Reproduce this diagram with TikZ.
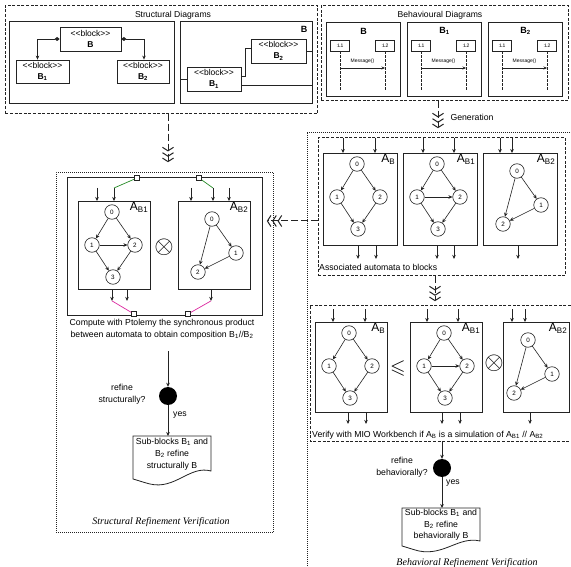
\documentclass[tikz,border=0pt]{standalone}
\usepackage{fontspec}
\usepackage{amssymb}
\setmainfont{Liberation Sans}
\newfontfamily\captionserif{Liberation Serif}
\usetikzlibrary{arrows.meta,calc}

\definecolor{wiregreen}{RGB}{40,140,40}
\definecolor{wirepink}{RGB}{220,40,160}
\definecolor{ink}{RGB}{35,35,35}

\newcommand{\txt}{\fontsize{8.7}{11.8}\selectfont}
\newcommand{\ttl}{\fontsize{8.6}{10}\selectfont}
\newcommand{\stereo}{<{}<block>{}>}

% automaton with four states (diamond layout)
\newcommand{\autoB}[6]{%
  \node[abox, minimum width=#4pt, minimum height=#5pt, anchor=north west] (#1) at (#2,#3) {};
  \node[albl] (#1l) at ($(#1.north east)+(-2,1)$) {A\textsubscript{#6}};
  \node[st] (#1a) at ($(#1.north west)+(34,11)$) {0};
  \node[st] (#1b) at ($(#1.north west)+(14,44)$) {1};
  \node[st] (#1c) at ($(#1.north west)+(57,44)$) {2};
  \node[st] (#1d) at ($(#1.north west)+(35,76)$) {3};
  \draw[tr] (#1a) -- (#1b);
  \draw[tr] (#1a) -- (#1c);
  \draw[tr] (#1b) -- (#1d);
  \draw[tr] (#1c) -- (#1d);
}
% same, with the extra transition 1 -> 2
\newcommand{\autoBone}[6]{%
  \autoB{#1}{#2}{#3}{#4}{#5}{#6}%
  \draw[tr] (#1b) -- (#1c);
}
% automaton with three states
\newcommand{\autoBtwo}[7]{%
  \node[abox, minimum width=#4pt, minimum height=#5pt, anchor=north west] (#1) at (#2,#3) {};
  \node[albl] (#1l) at ($(#1.north east)+(-2,1)$) {A\textsubscript{#6}};
  \node[st] (#1a) at ($(#1.north west)+({34+#7},18)$) {0};
  \node[st] (#1b) at ($(#1.north west)+({58+#7},52)$) {1};
  \node[st] (#1c) at ($(#1.north west)+({20+#7},71)$) {2};
  \draw[tr] (#1a) -- (#1b);
  \draw[tr] (#1a) -- (#1c);
  \draw[tr] (#1b) -- (#1c);
}
% input / output ports of an automaton box
\newcommand{\inarr}[3]{\draw[tr] ($(#1.north west)+(#2,-#3)$) -- ($(#1.north west)+(#2,0)$);}
\newcommand{\outarr}[3]{\draw[tr] ($(#1.south west)+(#2,0)$) -- ($(#1.south west)+(#2,#3)$);}
% sequence diagram frame
\newcommand{\seqdiag}[3]{%
  \node[thickbox, anchor=north west, minimum width=74pt, minimum height=74pt] (#1) at (#2,22) {};
  \node[font=\bfseries\fontsize{9}{9}\selectfont] (#1t) at ($(#1.north)+(0,9)$) {#3};
  \node[lifebox] (#1p) at ($(#1.north west)+(14,23.5)$) {:L1};
  \node[lifebox] (#1q) at ($(#1.north west)+(59,23.5)$) {:L2};
  \coordinate (#1e) at ($(#1.south)+(0,-6)$);
  \coordinate (#1m) at ($(#1.north)+(0,46)$);
  \draw[lifeline] (#1p.south) -- (#1p.south |- #1e);
  \draw[lifeline] (#1q.south) -- (#1q.south |- #1e);
  \draw[msg] (#1p |- #1m) -- (#1q |- #1m) node[midway, above=0.5pt, font=\fontsize{5}{5}\selectfont] {Message()};
}

\tikzset{
  sdash/.style={draw=ink, dash pattern=on 3pt off 1.6pt, line width=0.75pt},
  sdot/.style={draw=ink, dash pattern=on 0.8pt off 1.2pt, line width=0.7pt},
  thickbox/.style={draw=ink, line width=1.3pt, inner sep=0pt},
  blockbox/.style={draw=ink, line width=0.8pt, inner sep=0pt, align=center, font=\fontsize{8.5}{11}\selectfont},
  abox/.style={draw=ink, line width=0.9pt, inner sep=0pt},
  albl/.style={anchor=north east, inner sep=0.5pt, font=\fontsize{12}{12}\selectfont},
  st/.style={circle, draw=ink, line width=0.6pt, minimum size=14.5pt, inner sep=0pt, font=\fontsize{6.3}{6.3}\selectfont},
  tr/.style={draw=ink, -{Stealth[length=4pt,width=3.6pt]}, line width=0.6pt},
  msg/.style={draw=ink, -{Stealth[length=3.5pt,width=3pt]}, line width=0.6pt},
  lifebox/.style={draw=ink, line width=0.7pt, minimum width=19pt, minimum height=11pt, inner sep=0pt, font=\fontsize{5}{5}\selectfont},
  lifeline/.style={draw=ink, dash pattern=on 2.5pt off 1.5pt, line width=0.6pt},
  wire/.style={draw=ink, line width=0.7pt},
  comp/.style={draw=ink, line width=0.7pt, {Diamond[length=5pt,width=4pt]}-{Stealth[length=4pt,width=3.5pt]}},
  triplechev/.style={draw=ink, line width=1pt, dash pattern=on 7pt off 3pt,
    -{Straight Barb[length=3.5pt,width=11pt,line width=1pt,sep=0.8pt]Straight Barb[length=3.5pt,width=11pt,line width=1pt,sep=0.8pt]Straight Barb[length=3.5pt,width=11pt,line width=1pt,sep=0.8pt]}},
  dec/.style={circle, fill=black, minimum size=18pt, inner sep=0pt},
  portsq/.style={draw=ink, fill=white, line width=0.6pt, minimum size=5pt, inner sep=0pt},
  gline/.style={draw=wiregreen, line width=0.7pt},
  pline/.style={draw=wirepink, line width=0.7pt},
  docline/.style={draw=ink, line width=0.8pt},
}

\begin{document}
\begin{tikzpicture}[x=1pt,y=-1pt]
\useasboundingbox[fill=white] (0,0) rectangle (571,567);

% ================= structural diagrams =================
\node[sdash, anchor=north west, minimum width=312pt, minimum height=108pt] (strbox) at (5,5) {};
\node[font=\ttl] (strtitle) at (173,15) {Structural Diagrams};

\node[thickbox, anchor=north west, minimum width=165pt, minimum height=82pt] (sbox1) at (9,21) {};
\node[blockbox, minimum width=61pt, minimum height=24pt] (blkB) at (90.5,39) {\stereo\\\textbf{B}};
\node[blockbox, minimum width=53pt, minimum height=23pt] (blkB1) at (42.5,71.5) {\stereo\\\textbf{B\textsubscript{1}}};
\node[blockbox, minimum width=52pt, minimum height=23pt] (blkB2) at (143,71.5) {\stereo\\\textbf{B\textsubscript{2}}};
\draw[comp] (blkB.west) -| ([xshift=-5pt]blkB1.north);
\draw[comp] (blkB.east) -| ([xshift=1pt]blkB2.north);

\node[thickbox, anchor=north west, minimum width=132pt, minimum height=82pt] (sbox2) at (180,21) {};
\node[font=\bfseries\fontsize{9}{9}\selectfont] (sbox2lbl) at (304,29) {B};
\node[blockbox, minimum width=54pt, minimum height=24pt] (iB1) at (214,79) {\stereo\\\textbf{B\textsubscript{1}}};
\node[blockbox, minimum width=55pt, minimum height=24pt] (iB2) at (278.5,51) {\stereo\\\textbf{B\textsubscript{2}}};
\coordinate (iB1lo) at ([yshift=-6pt]iB1.east);
\draw[wire] (sbox2.west |- iB1.west) -- (iB1.west);
\draw[wire] ([yshift=3pt]iB1.east) -- ++(4,0) |- ([yshift=3pt]iB2.west);
\draw[wire] (iB1lo) -- (iB1lo -| sbox2.east);
\draw[wire] (iB2.east) -- (iB2.east -| sbox2.east);

% ================= behavioural diagrams =================
\node[sdash, anchor=north west, minimum width=247pt, minimum height=95pt] (behbox) at (321,5) {};
\node[font=\ttl] (behtitle) at (440,15) {Behavioural Diagrams};
\seqdiag{sqB}{326}{B}
\seqdiag{sqBa}{407}{B\textsubscript{1}}
\seqdiag{sqBb}{488}{B\textsubscript{2}}

\coordinate (genend) at (438,129);
\draw[triplechev] (behbox.south -| genend) -- (genend);
\node[font=\txt, anchor=west] (genlbl) at (447,117) {Generation};

\coordinate (strend) at (168,163);
\draw[triplechev] (strbox.south -| strend) -- (strend);

% ================= structural refinement verification =================
\node[sdot, anchor=north west, minimum width=217pt, minimum height=360pt] (lpanel) at (56,172) {};
\node[draw=ink, line width=0.9pt, anchor=north west, minimum width=195pt, minimum height=138pt] (lprod) at (67,177) {};
\autoBone{la}{78}{201}{72}{88}{B1}
\autoBtwo{lb}{178}{201}{72}{88}{B2}{0}
\inarr{la}{19}{13}
\inarr{la}{36}{13}
\inarr{lb}{13}{13}
\inarr{lb}{35}{13}
\inarr{lb}{51}{13}
\outarr{la}{34}{11}
\outarr{la}{49}{11}
\outarr{lb}{33}{11}
\node[font=\fontsize{23}{23}\selectfont] (lotimes) at (164,247) {$\otimes$};

\node[portsq] (gsq1) at (137,178) {};
\node[portsq] (gsq2) at (199,178) {};
\node[portsq] (psq1) at (134,314) {};
\node[portsq] (psq2) at (188,314) {};
\draw[gline] ($(la.north west)+(36,-13)$) -- (gsq1);
\draw[gline] ($(lb.north west)+(35,-13)$) -- (gsq2);
\draw[pline] ($(la.south west)+(34,11)$) -- (psq1);
\draw[pline] ($(lb.south west)+(33,11)$) -- (psq2);

\node[font=\txt, align=center] (lcomp) at (162,329) {Compute with Ptolemy the synchronous product\\between automata to obtain composition B\textsubscript{1}//B\textsubscript{2}};

\coordinate (lf0) at (168,351);
\node[dec] (ldec) at (168,396) {};
\draw[tr] (lf0) -- (ldec);
\node[font=\txt, align=center] (lq) at (122,394) {refine\\structurally?};
\coordinate (ldocnw) at (133,436);
\draw[tr] (ldec) -- (ldec |- ldocnw);
\node[font=\txt] (lyes) at (180,415) {yes};
\draw[docline] (ldocnw) -- (211,436) -- (211,471) .. controls (190,465) and (175,490) .. (150,484)
  .. controls (142,482) and (137,480) .. (133,479) -- cycle;
\node[font=\txt, align=center] (ldoct) at (172,454) {Sub-blocks B\textsubscript{1} and\\B\textsubscript{2} refine\\structurally B};
\node[font=\captionserif\itshape\fontsize{10}{10}\selectfont] (ltitle) at (161,522) {Structural Refinement Verification};

% ================= behavioral refinement verification =================
\draw[sdot] (580,132) -- (307,132) -- (307,580);
\node[sdash, anchor=north west, minimum width=247pt, minimum height=138pt] (rgen) at (318,137) {};
\autoB{ra}{323}{153}{74}{92}{B}
\autoBone{rb}{403}{153}{74}{92}{B1}
\autoBtwo{rc}{483}{153}{74}{92}{B2}{0}
\inarr{ra}{20}{15}
\inarr{ra}{52}{15}
\inarr{rb}{20}{15}
\inarr{rb}{51}{15}
\inarr{rc}{17}{15}
\inarr{rc}{29}{15}
\outarr{ra}{35}{13}
\outarr{ra}{53}{13}
\outarr{rb}{34}{13}
\outarr{rb}{51}{13}
\outarr{rc}{35}{13}
\node[font=\txt, anchor=west, inner sep=1pt] (rassoc) at (318,267) {Associated automata to blocks};

\coordinate (lch) at (266,221);
\draw[triplechev] (rgen.west |- lch) -- (lch);
\coordinate (rch) at (435,302);
\draw[triplechev] (rgen.south -| rch) -- (rch);

\draw[sdash] (580,305) -- (310,305) -- (310,441) -- (580,441);
\autoB{sa}{315}{322}{72}{90}{B}
\autoBone{sb}{410}{322}{72}{90}{B1}
\autoBtwo{sc}{503}{322}{66}{90}{B2}{-9}
\inarr{sa}{18}{13}
\inarr{sa}{50}{13}
\inarr{sb}{17}{13}
\inarr{sb}{48}{13}
\inarr{sc}{9}{13}
\inarr{sc}{22}{13}
\outarr{sa}{33}{11}
\outarr{sa}{51}{11}
\outarr{sb}{32}{11}
\outarr{sb}{50}{11}
\outarr{sc}{27}{11}
\node[font=\fontsize{20}{20}\selectfont] (rleq) at (398,368) {$\leqslant$};
\node[font=\fontsize{23}{23}\selectfont] (rotimes) at (494,363) {$\otimes$};
\node[font=\txt, anchor=west, inner sep=1pt] (rverify) at (311,435) {Verify with MIO Workbench if A\textsubscript{B} is a simulation of A\textsubscript{B1} // A\textsubscript{B2}};

\coordinate (rf0) at (442,441);
\node[dec] (rdec) at (442,468) {};
\draw[tr] (rf0) -- (rdec);
\node[font=\txt, align=center] (rq) at (402,467) {refine\\behaviorally?};
\coordinate (rdocnw) at (402,508);
\draw[tr] (rdec) -- (rdec |- rdocnw);
\node[font=\txt] (ryes) at (453,483) {yes};
\draw[docline] (rdocnw) -- (480,508) -- (480,541) .. controls (459,536) and (444,556) .. (419,551)
  .. controls (411,549) and (406,547) .. (402,546) -- cycle;
\node[font=\fontsize{8.7}{11.5}\selectfont, align=center] (rdoct) at (441,525) {Sub-blocks B\textsubscript{1} and\\B\textsubscript{2} refine\\behaviorally B};
\node[font=\captionserif\itshape\fontsize{10}{10}\selectfont] (rtitle) at (467,563) {Behavioral Refinement Verification};
\end{tikzpicture}
\end{document}
